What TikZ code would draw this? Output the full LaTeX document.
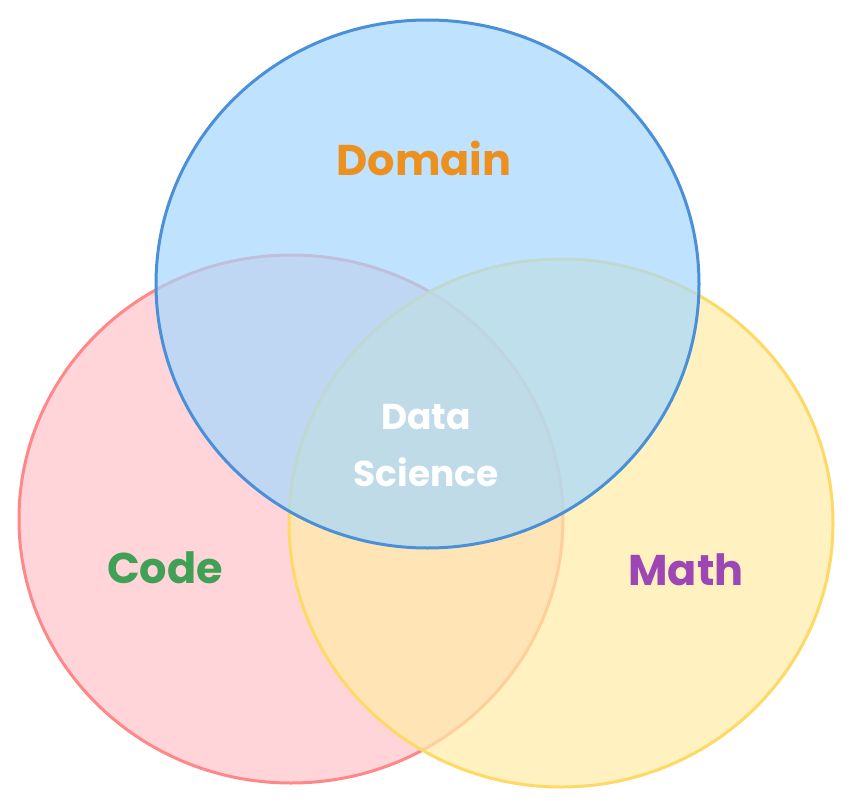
\documentclass[tikz,border=0pt]{standalone}
\usepackage{fontspec}
\setmainfont{Poppins}
\definecolor{redfill}{HTML}{FFC4C9}
\definecolor{redline}{HTML}{FF8787}
\definecolor{bluefill}{HTML}{A5D8FF}
\definecolor{blueline}{HTML}{4A90D9}
\definecolor{yelfill}{HTML}{FFEDA6}
\definecolor{yelline}{HTML}{FFD966}
\definecolor{domaincol}{HTML}{EC9120}
\definecolor{codecol}{HTML}{40A055}
\definecolor{mathcol}{HTML}{9C47B4}
\tikzset{
  setcircle/.style={line width=3pt, fill opacity=0.7},
  setlabel/.style={font=\fontsize{43}{43}\selectfont\bfseries, inner sep=0pt},
}
\begin{document}
\begin{tikzpicture}[x=1pt,y=-1pt]
\useasboundingbox (0,0) rectangle (852,808);
\fill[white] (0,0) rectangle (852,808);
\draw[setcircle, draw=redline, fill=redfill] (291,519) ellipse [x radius=272, y radius=264];
\draw[setcircle, draw=yelline, fill=yelfill] (561,523) ellipse [x radius=272, y radius=264];
\draw[setcircle, draw=blueline, fill=bluefill] (427.5,284) ellipse [x radius=271.5, y radius=264];
\node[setlabel, text=domaincol] (domain) at (424,158) {Domain};
\node[setlabel, text=codecol] (code) at (165,568) {Code};
\node[setlabel, text=mathcol] (math) at (686,570) {Math};
\node[setlabel, text=white, align=center, font=\fontsize{36}{57}\selectfont\bfseries] (ds) at (426,446) {Data\\Science};
\end{tikzpicture}
\end{document}
